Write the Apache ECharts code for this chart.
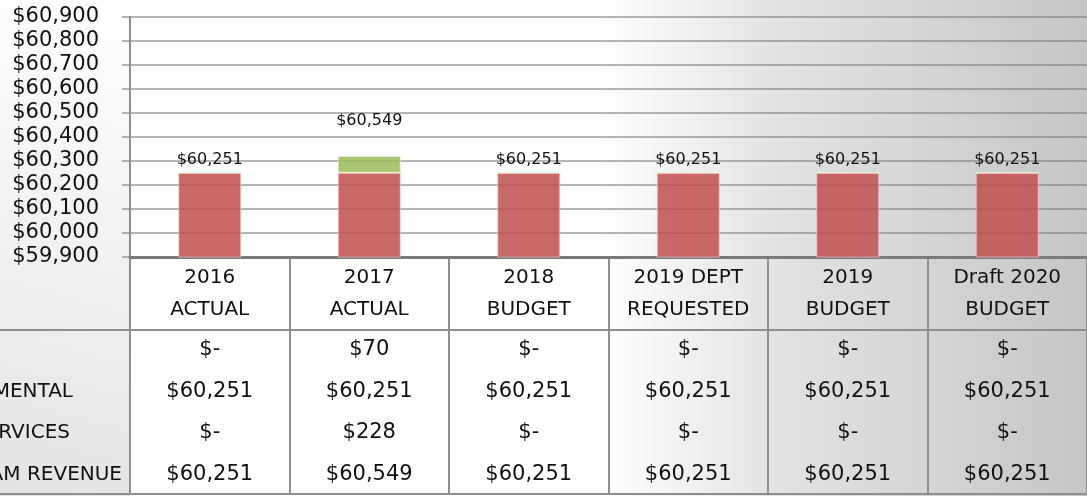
<!DOCTYPE html>
<html>
<head>
<meta charset="utf-8">
<script src="https://cdn.jsdelivr.net/npm/echarts@6/dist/echarts.min.js"></script>
<style>
  html, body { margin: 0; padding: 0; }
  #chart { width: 1087px; height: 496px; }
</style>
</head>
<body>
<div id="chart"></div>
<script>
// chart data
const categories = ['2016\nACTUAL', '2017\nACTUAL', '2018\nBUDGET', '2019 DEPT\nREQUESTED', '2019\nBUDGET', 'Draft 2020\nBUDGET']
const rowNames = ['MISCELLANEOUS', 'INTERGOVERNMENTAL', 'CHARGES FOR SERVICES', 'TOTAL PROGRAM REVENUE']
const miscValues = [0, 70, 0, 0, 0, 0]
const intergovValues = [60251, 60251, 60251, 60251, 60251, 60251]
const chargesValues = [0, 228, 0, 0, 0, 0]
const totalValues = [60251, 60549, 60251, 60251, 60251, 60251]
const tableRows = [miscValues, intergovValues, chargesValues, totalValues]
const yMin = 59900
const yMax = 60900
const yStep = 100

const font = 'DejaVu Sans'
const gridColor = 'rgba(120,120,120,0.55)'
const tableLine = '#8f8f8f'

function money(v) {
  return v === 0 ? '$-' : '$' + v.toLocaleString('en-US')
}

// table rows drawn as extra x axes under the plot
const rowOffsets = [81, 123, 164, 206]
const rowAxes = tableRows.map((row, i) => ({
  type: 'category',
  gridIndex: 0,
  position: 'bottom',
  offset: rowOffsets[i],
  data: categories,
  axisLine: { show: false },
  axisTick: { show: false },
  splitLine: { show: false },
  axisLabel: {
    margin: 0,
    interval: 0,
    fontFamily: font,
    fontSize: 21,
    lineHeight: 24,
    color: '#111',
    formatter: (value, idx) => money(row[idx])
  }
}))

// row labels on the left (cut off by the page edge like the original)
const rowLabelRight = [-20, 73, 70, 122]
const rowLabels = rowNames.map((name, i) => ({
  type: 'text',
  x: rowLabelRight[i],
  y: 257 + rowOffsets[i] + 12,
  style: {
    text: name,
    textAlign: 'right',
    textVerticalAlign: 'middle',
    fontFamily: font,
    fontSize: 20,
    fill: '#111'
  }
}))

const chart = echarts.init(document.getElementById('chart'))
chart.setOption({
  animation: false,
  backgroundColor: new echarts.graphic.LinearGradient(0, 0, 1, 0, [
    { offset: 0, color: '#ffffff' },
    { offset: 0.55, color: '#ffffff' },
    { offset: 0.72, color: '#e2e2e2' },
    { offset: 1, color: '#c6c6c6' }
  ]),
  grid: [
    { left: 130, top: 17, width: 960, height: 240 },
    { left: 130, top: 257, width: 960, height: 237 }
  ],
  xAxis: [
    {
      type: 'category',
      gridIndex: 0,
      data: categories,
      axisLine: { lineStyle: { color: '#7a7a7a', width: 3 } },
      axisTick: { show: false },
      axisLabel: {
        margin: 5,
        interval: 0,
        fontFamily: font,
        fontSize: 20,
        lineHeight: 32,
        color: '#111'
      }
    },
    ...rowAxes,
    {
      type: 'category',
      gridIndex: 1,
      data: categories,
      axisLine: { show: false },
      axisTick: { show: false },
      axisLabel: { show: false },
      splitLine: { show: true, lineStyle: { color: tableLine, width: 2 } }
    }
  ],
  yAxis: [
    {
      type: 'value',
      gridIndex: 0,
      min: yMin,
      max: yMax,
      interval: yStep,
      axisLine: { show: true, lineStyle: { color: tableLine, width: 2 } },
      axisTick: { show: true, length: 8, lineStyle: { color: gridColor, width: 2 } },
      splitLine: { lineStyle: { color: gridColor, width: 2 } },
      axisLabel: {
        margin: 31,
        fontFamily: font,
        fontSize: 21,
        color: '#111',
        formatter: v => money(v)
      }
    },
    { type: 'value', gridIndex: 1, show: false }
  ],
  series: [
    {
      name: rowNames[1],
      type: 'bar',
      stack: 'rev',
      barWidth: 63,
      data: intergovValues,
      itemStyle: { color: 'rgba(192,80,77,0.85)', borderColor: 'rgba(255,205,205,0.7)', borderWidth: 1 }
    },
    {
      name: rowNames[0],
      type: 'bar',
      stack: 'rev',
      data: miscValues,
      itemStyle: { color: 'rgba(155,187,89,0.85)', borderColor: 'rgba(230,245,210,0.7)', borderWidth: 1 }
    },
    {
      name: rowNames[2],
      type: 'bar',
      stack: 'rev',
      data: chargesValues.map((v, i) => i === 1
        ? { value: v, label: { position: 'insideTop', distance: 12 } }
        : v),
      itemStyle: { color: 'transparent' },
      label: {
        show: true,
        position: 'top',
        distance: 5,
        fontFamily: font,
        fontSize: 16,
        color: '#111',
        formatter: p => money(totalValues[p.dataIndex])
      }
    }
  ],
  graphic: [
    {
      // soft shading of the left label column
      type: 'rect',
      z: -10,
      shape: { x: 0, y: 0, width: 130, height: 496 },
      style: {
        fill: new echarts.graphic.LinearGradient(1, 0, 0, 1, [
          { offset: 0, color: 'rgba(200,200,200,0)' },
          { offset: 1, color: 'rgba(200,200,200,0.5)' }
        ])
      }
    },
    {
      type: 'line',
      shape: { x1: 0, y1: 330, x2: 1087, y2: 330 },
      style: { stroke: tableLine, lineWidth: 2 }
    },
    {
      type: 'line',
      shape: { x1: 0, y1: 494, x2: 1087, y2: 494 },
      style: { stroke: tableLine, lineWidth: 2 }
    },
    ...rowLabels
  ]
})
</script>
</body>
</html>
